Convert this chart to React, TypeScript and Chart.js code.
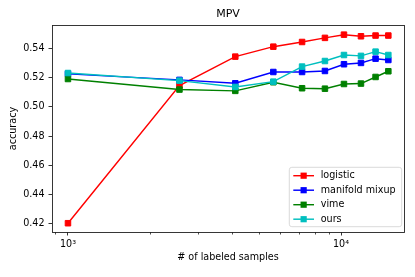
import React, { useEffect, useRef } from 'react';
import { Chart, registerables } from 'chart.js';

Chart.register(...registerables);

// ---- data ----
const samples = [1000, 2560, 4100, 5650, 7200, 8730, 10250, 11830, 13380, 14900];
const logistic = [0.4205, 0.5145, 0.5343, 0.5411, 0.5443, 0.5471, 0.5493, 0.5482, 0.5487, 0.5487];
const manifoldMixup = [0.5225, 0.5184, 0.5161, 0.5238, 0.5238, 0.5245, 0.5291, 0.53, 0.5329, 0.532];
const vime = [0.519, 0.5118, 0.5109, 0.5168, 0.5127, 0.5124, 0.5156, 0.5159, 0.5204, 0.5243];
const ours = [0.5231, 0.5179, 0.5136, 0.5172, 0.5275, 0.5313, 0.5354, 0.5348, 0.5377, 0.5354];
const seriesNames = ['logistic', 'manifold mixup', 'vime', 'ours'];
const seriesColors = ['#ff0000', '#0000ff', '#008000', '#00bfbf'];
const yTicks = [0.42, 0.44, 0.46, 0.48, 0.5, 0.52, 0.54];
const xMajorTicks = [1000, 10000];
const xMajorLabels = ['10³', '10⁴'];
const xMinorTicks = [900, 2000, 3000, 4000, 5000, 6000, 7000, 8000, 9000];
const titleText = 'MPV';
const xTitle = '# of labeled samples';
const yTitle = 'accuracy';

const FONT = "'DejaVu Sans', sans-serif";

const decorPlugin = {
  id: 'decor',
  afterDraw(chart: any) {
    const { ctx, chartArea: ca, scales } = chart;
    ctx.save();
    // frame
    ctx.strokeStyle = '#222';
    ctx.lineWidth = 0.9;
    ctx.strokeRect(ca.left + 0.5, ca.top + 0.5, ca.right - ca.left, ca.bottom - ca.top);
    // minor x ticks
    const xs = scales.x;
    ctx.lineWidth = 0.7;
    ctx.strokeStyle = '#000';
    xMinorTicks.forEach((v) => {
      const px = Math.round(xs.getPixelForValue(v)) + 0.5;
      ctx.beginPath();
      ctx.moveTo(px, ca.bottom + 0.5);
      ctx.lineTo(px, ca.bottom + 2.5);
      ctx.stroke();
    });
    // title
    ctx.fillStyle = '#000';
    ctx.font = `11px ${FONT}`;
    ctx.textAlign = 'center';
    ctx.textBaseline = 'middle';
    ctx.fillText(titleText, (ca.left + ca.right) / 2, 14.5);
    // legend
    const w = 112.4;
    const h = 59.4;
    const lx = ca.right - 114.7;
    const ly = ca.bottom - 64.7;
    ctx.beginPath();
    const r = 2.5;
    ctx.moveTo(lx + r, ly);
    ctx.arcTo(lx + w, ly, lx + w, ly + h, r);
    ctx.arcTo(lx + w, ly + h, lx, ly + h, r);
    ctx.arcTo(lx, ly + h, lx, ly, r);
    ctx.arcTo(lx, ly, lx + w, ly, r);
    ctx.closePath();
    ctx.fillStyle = 'rgba(255,255,255,0.8)';
    ctx.fill();
    ctx.strokeStyle = '#d0d0d0';
    ctx.lineWidth = 0.8;
    ctx.stroke();
    chart.data.datasets.forEach((ds: any, i: number) => {
      const y = ly + 8.4 + i * 14.5;
      ctx.strokeStyle = ds.borderColor;
      ctx.lineWidth = 1.45;
      ctx.beginPath();
      ctx.moveTo(lx + 4, y);
      ctx.lineTo(lx + 24.7, y);
      ctx.stroke();
      ctx.fillStyle = ds.borderColor;
      ctx.fillRect(lx + 14.35 - 3.1, y - 3.1, 6.2, 6.2);
      ctx.fillStyle = '#000';
      ctx.font = `9.6px ${FONT}`;
      ctx.textAlign = 'left';
      ctx.textBaseline = 'middle';
      ctx.fillText(ds.label, lx + 31.4, y);
    });
    ctx.restore();
  },
};

export default function App() {
  const ref = useRef<HTMLCanvasElement | null>(null);
  useEffect(() => {
    if (!ref.current) return;
    const allSeries = [logistic, manifoldMixup, vime, ours];
    const datasets = allSeries.map((vals, i) => ({
      label: seriesNames[i],
      data: samples.map((x, j) => ({ x, y: vals[j] })),
      borderColor: seriesColors[i],
      backgroundColor: seriesColors[i],
      pointBackgroundColor: seriesColors[i],
      pointBorderColor: seriesColors[i],
      borderWidth: 1.45,
      pointStyle: 'rect',
      pointRadius: 3.9,
      pointBorderWidth: 1,
      tension: 0,
      order: allSeries.length - i,
    }));
    const chart = new Chart(ref.current, {
      type: 'line',
      data: { datasets },
      plugins: [decorPlugin],
      options: {
        animation: false,
        responsive: false,
        devicePixelRatio: 1,
        layout: { padding: { top: 25, right: 11, left: 0, bottom: 0 } },
        plugins: {
          legend: { display: false },
          title: { display: false },
          tooltip: { enabled: false },
        },
        scales: {
          x: {
            type: 'logarithmic',
            min: 874,
            max: 17005,
            afterBuildTicks: (s: any) => {
              s.ticks = xMajorTicks.map((v) => ({ value: v, major: true }));
            },
            afterFit: (s: any) => {
              s.height = 45;
            },
            grid: {
              display: true,
              drawOnChartArea: false,
              drawTicks: true,
              tickLength: 3.5,
              tickColor: '#000',
              tickWidth: 0.8,
            },
            border: { display: false },
            ticks: {
              autoSkip: false,
              maxRotation: 0,
              minRotation: 0,
              padding: 3,
              color: '#000',
              font: { family: FONT, size: 9.6 },
              callback: (v: any) => {
                const idx = xMajorTicks.indexOf(Number(v));
                return idx >= 0 ? xMajorLabels[idx] : '';
              },
            },
            title: {
              display: true,
              text: xTitle,
              color: '#000',
              font: { family: FONT, size: 9.6 },
              padding: { top: 0, bottom: 13.5 },
            },
          },
          y: {
            type: 'linear',
            min: 0.4145,
            max: 0.5559,
            afterBuildTicks: (s: any) => {
              s.ticks = yTicks.map((v) => ({ value: v }));
            },
            afterFit: (s: any) => {
              s.width = 52;
            },
            grid: {
              display: true,
              drawOnChartArea: false,
              drawTicks: true,
              tickLength: 3.5,
              tickColor: '#000',
              tickWidth: 0.8,
            },
            border: { display: false },
            ticks: {
              padding: 4,
              color: '#000',
              font: { family: FONT, size: 9.6 },
              callback: (v: any) => Number(v).toFixed(2),
            },
            title: {
              display: true,
              text: yTitle,
              color: '#000',
              font: { family: FONT, size: 9.6 },
              padding: { top: 8.2, bottom: 0 },
            },
          },
        },
      },
    } as any);
    return () => chart.destroy();
  }, []);
  return (
    <div style={{ position: 'fixed', left: 0, top: 0, width: 415, height: 277, background: '#fff' }}>
      <canvas ref={ref} width={415} height={277} style={{ display: 'block' }} />
    </div>
  );
}
